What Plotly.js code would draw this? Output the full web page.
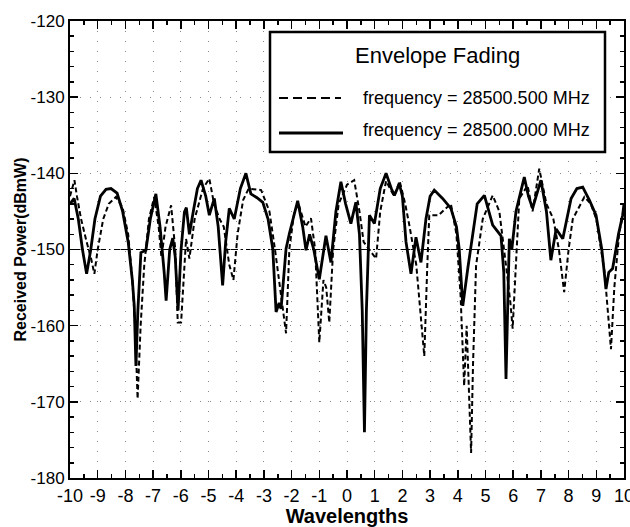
<!DOCTYPE html>
<html>
<head>
<meta charset="utf-8">
<script src="https://cdn.plot.ly/plotly-3.0.1.min.js"></script>
<style>
  html, body { margin: 0; padding: 0; background: #fff; }
  #chart { width: 630px; height: 527px; }
</style>
</head>
<body>
<div id="chart"></div>
<script>
// Solid: frequency = 28500.000 MHz
const xSolid = [-10.0,-9.85,-9.7,-9.55,-9.4,-9.25,-9.1,-8.9,-8.7,-8.52,-8.3,-8.1,-7.9,-7.75,-7.68,-7.62,-7.55,-7.44,-7.26,-7.1,-6.9,-6.75,-6.6,-6.53,-6.4,-6.29,-6.2,-6.1,-5.99,-5.87,-5.8,-5.69,-5.55,-5.4,-5.27,-5.1,-4.97,-4.79,-4.65,-4.49,-4.38,-4.25,-4.07,-3.85,-3.65,-3.47,-3.25,-3.04,-2.85,-2.68,-2.56,-2.45,-2.38,-2.2,-2.08,-1.95,-1.78,-1.6,-1.48,-1.35,-1.2,-1.0,-0.76,-0.58,-0.4,-0.22,-0.05,0.14,0.32,0.45,0.55,0.63,0.7,0.81,0.99,1.2,1.41,1.6,1.71,1.89,2.0,2.13,2.31,2.49,2.67,2.85,3.0,3.15,3.45,3.75,3.95,4.05,4.18,4.36,4.5,4.7,4.96,5.26,5.56,5.66,5.74,5.8,5.86,5.95,6.1,6.4,6.55,6.7,7.0,7.2,7.36,7.55,7.79,8.09,8.3,8.51,8.75,8.99,9.2,9.35,9.45,9.59,9.8,9.95,10.0];
const ySolid = [-144.0,-143.3,-146,-150,-153.2,-150,-146,-143,-142.1,-142.0,-142.6,-145,-149,-154,-157.4,-165.3,-158,-150.4,-150.1,-146,-142.7,-147,-153,-156.7,-150,-148.5,-151,-158,-150,-145.1,-144.5,-148,-145,-142,-140.9,-143,-145.5,-143.3,-147,-154.7,-149,-144.6,-146,-142,-140.0,-142.7,-143.2,-143.8,-146,-149.9,-158.2,-157,-157.8,-149.9,-147.9,-146,-143.6,-147,-150.1,-148,-150,-153.9,-148.2,-151.7,-145,-141.1,-144,-146.6,-143.8,-148,-158,-174.0,-158,-145.5,-146.6,-142,-140.0,-142,-142.9,-141.4,-143,-149,-153.2,-148.4,-151.7,-146,-143,-142.2,-143.3,-144.6,-147,-149.9,-157.4,-152.5,-149,-144,-142.9,-146.8,-148.2,-153,-167,-156,-148.6,-150,-145,-140.5,-143,-144.6,-140.9,-145,-151.4,-147.3,-148.6,-143.3,-142,-141.8,-143.5,-145.5,-150,-155.2,-153,-152.5,-148,-145.5,-144];

// Dashed: frequency = 28500.500 MHz
const xDashed = [-10.0,-9.9,-9.84,-9.75,-9.6,-9.4,-9.25,-9.12,-9.0,-8.8,-8.6,-8.34,-8.1,-7.9,-7.75,-7.65,-7.56,-7.45,-7.32,-7.15,-6.96,-6.8,-6.7,-6.55,-6.35,-6.2,-6.11,-5.99,-5.81,-5.69,-5.5,-5.2,-4.97,-4.8,-4.6,-4.45,-4.25,-4.1,-3.95,-3.75,-3.55,-3.1,-2.8,-2.6,-2.45,-2.3,-2.2,-2.08,-1.9,-1.75,-1.5,-1.3,-1.15,-1.0,-0.85,-0.75,-0.64,-0.5,-0.3,0.0,0.26,0.45,0.6,0.8,1.05,1.2,1.41,1.7,1.9,2.1,2.25,2.5,2.65,2.79,2.9,2.97,3.3,3.75,3.95,4.1,4.23,4.32,4.48,4.55,4.66,4.9,5.26,5.5,5.74,5.9,5.98,6.1,6.22,6.52,6.7,6.94,7.2,7.45,7.65,7.84,8.0,8.15,8.57,8.8,9.0,9.3,9.53,9.65,9.83,10.0];
const yDashed = [-143,-141.5,-140.9,-143,-146,-149,-151,-153.2,-150,-146,-144,-143.1,-144.5,-148,-154,-160,-169.6,-160,-152.1,-146,-143.1,-147,-151,-147,-144.2,-150,-159.6,-159.6,-148.6,-151.2,-146,-142,-140.7,-144,-146,-147,-152,-154,-148,-143.5,-142,-142.2,-145,-150,-154,-158,-161,-149.9,-145,-144,-147,-145.9,-150,-162.2,-154,-155,-159.6,-150,-144,-141.5,-140.9,-145,-149,-150,-151.2,-145,-141,-143,-141,-144,-146.8,-152,-158,-164,-152,-145.5,-145.5,-144,-148,-156,-167.9,-160,-176.7,-165,-152.1,-146,-142.9,-145,-152.1,-157,-160.4,-152,-143.3,-141.6,-145,-139.4,-144,-146,-150,-155.6,-150,-146,-143.1,-144,-146,-153,-163.1,-155,-147.7,-145];

const xTickVals = [-10,-9,-8,-7,-6,-5,-4,-3,-2,-1,0,1,2,3,4,5,6,7,8,9,10];
const xTickText = ["-10","-9","-8","-7","-6","-5","-4","-3","-2","-1","0","1","2","3","4","5","6","7","8","9","10"];
const yTickVals = [-180,-170,-160,-150,-140,-130,-120];
const yTickText = ["-180","-170","-160","-150","-140","-130","-120"];

const legendTitle = "Envelope Fading";
const nameDashed = "frequency = 28500.500 MHz";
const nameSolid = "frequency = 28500.000 MHz";

const FONT = "Liberation Sans, Arial, sans-serif";

// pixel -> paper helpers for the hand-built legend box
const PL = 70, PR = 624, PT = 21, PB = 478;
const px = v => (v - PL) / (PR - PL);
const py = v => (PB - v) / (PB - PT);

const traces = [
  { x: xDashed, y: yDashed, type: 'scatter', mode: 'lines', name: nameDashed,
    line: { color: 'black', width: 2, dash: '5px,3px' }, showlegend: false, hoverinfo: 'skip' },
  { x: xSolid, y: ySolid, type: 'scatter', mode: 'lines', name: nameSolid,
    line: { color: 'black', width: 2.8 }, showlegend: false, hoverinfo: 'skip' }
];

const axisCommon = {
  showline: true, linecolor: 'black', linewidth: 2, mirror: 'allticks',
  ticks: 'inside', ticklen: 8, tickwidth: 1.5, tickcolor: 'black',
  showgrid: true, gridcolor: '#888', gridwidth: 1, griddash: '1px,9px',
  zeroline: false, ticklabeloverflow: 'allow'
};

const layout = {
  width: 630, height: 527,
  margin: { l: PL, r: 630 - PR, t: PT, b: 527 - PB, pad: 0 },
  paper_bgcolor: 'white', plot_bgcolor: 'white',
  showlegend: false,
  font: { family: FONT, color: 'black' },
  xaxis: Object.assign({}, axisCommon, {
    range: [-10, 10], tickmode: 'array', tickvals: xTickVals, ticktext: xTickText,
    tickfont: { size: 18, family: FONT, color: 'black' },
    minor: { dtick: 0.5, ticklen: 4, ticks: 'inside', tickcolor: 'black', showgrid: false },
    title: { text: 'Wavelengths', font: { size: 20, family: FONT, weight: 'bold', color: 'black' }, standoff: 4 },
    automargin: false
  }),
  yaxis: Object.assign({}, axisCommon, {
    range: [-180, -120], tickmode: 'array', tickvals: yTickVals, ticktext: yTickText,
    tickfont: { size: 17, family: FONT, color: 'black' },
    minor: { dtick: 2, ticklen: 4, ticks: 'inside', tickcolor: 'black', showgrid: false },
    title: { text: 'Received Power(dBmW)', font: { size: 16, family: FONT, weight: 'bold', color: 'black' }, standoff: 0 },
    automargin: false
  }),
  shapes: [
    { type: 'line', xref: 'paper', yref: 'y', x0: 0, x1: 1, y0: -150, y1: -150,
      line: { color: 'black', width: 1, dash: '14px,3px,2px,3px' }, layer: 'below' },
    { type: 'rect', xref: 'paper', yref: 'paper', x0: px(270), x1: px(605), y0: py(152), y1: py(32),
      line: { color: 'black', width: 2.5 }, fillcolor: 'white', layer: 'above' },
    { type: 'line', xref: 'paper', yref: 'paper', x0: px(279), x1: px(341), y0: py(98), y1: py(98),
      line: { color: 'black', width: 2, dash: '9px,5px' }, layer: 'above' },
    { type: 'line', xref: 'paper', yref: 'paper', x0: px(279), x1: px(343), y0: py(133), y1: py(133),
      line: { color: 'black', width: 2.8 }, layer: 'above' }
  ],
  annotations: [
    { xref: 'paper', yref: 'paper', x: px(437), y: py(56), text: legendTitle, showarrow: false,
      xanchor: 'center', yanchor: 'middle', font: { size: 22, family: FONT, color: 'black' } },
    { xref: 'paper', yref: 'paper', x: px(361), y: py(98), text: nameDashed, showarrow: false,
      xanchor: 'left', yanchor: 'middle', font: { size: 18, family: FONT, color: 'black' } },
    { xref: 'paper', yref: 'paper', x: px(361), y: py(130), text: nameSolid, showarrow: false,
      xanchor: 'left', yanchor: 'middle', font: { size: 18, family: FONT, color: 'black' } }
  ]
};

Plotly.newPlot('chart', traces, layout, { staticPlot: true, displayModeBar: false });
</script>
</body>
</html>
